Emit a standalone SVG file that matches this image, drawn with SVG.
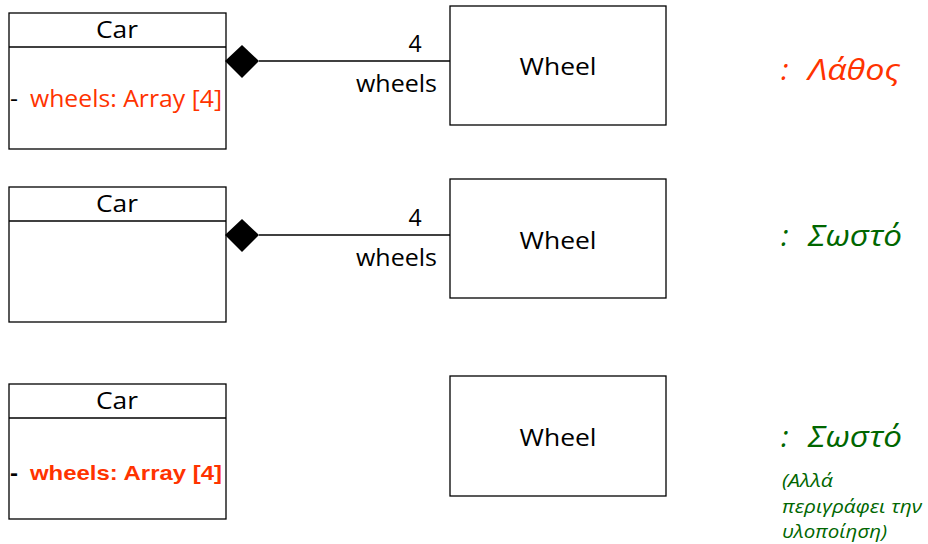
<svg xmlns="http://www.w3.org/2000/svg" width="928" height="544" viewBox="0 0 928 544">
<style>
.box{fill:#fff;stroke:#000;stroke-width:1.3}
.hand{font-family:"Open Sans","DejaVu Sans",sans-serif;fill:#000;font-size:23px}
.red{fill:#FF3300}
.green{fill:#006600}
.verdict{font-family:"Open Sans","DejaVu Sans",sans-serif;font-style:italic;font-size:30px}
.note{font-family:"Open Sans","DejaVu Sans",sans-serif;font-style:italic;font-size:19px}
.line{stroke:#000;stroke-width:1.3;fill:none}
</style>
<rect width="928" height="544" fill="#fff"/>
<g id="car1">
<rect class="box" x="9" y="13" width="217" height="136"/>
<line class="line" x1="9" y1="47" x2="226" y2="47"/>
<text class="hand" x="117" y="38" text-anchor="middle" textLength="42" lengthAdjust="spacingAndGlyphs">Car</text>
<text class="hand" x="10" y="107" font-size="22" textLength="8" lengthAdjust="spacingAndGlyphs">-</text>
<text class="hand red" x="30" y="107" font-size="20" textLength="192" lengthAdjust="spacingAndGlyphs">wheels: Array [4]</text>
</g>
<g id="wheel1">
<rect class="box" x="450" y="6" width="216" height="119"/>
<text class="hand" x="558" y="75" text-anchor="middle" textLength="77" lengthAdjust="spacingAndGlyphs">Wheel</text>
</g>
<g id="car2">
<rect class="box" x="9" y="187" width="217" height="135"/>
<line class="line" x1="9" y1="221" x2="226" y2="221"/>
<text class="hand" x="117" y="212" text-anchor="middle" textLength="42" lengthAdjust="spacingAndGlyphs">Car</text>
</g>
<g id="wheel2">
<rect class="box" x="450" y="179" width="216" height="119"/>
<text class="hand" x="558" y="249" text-anchor="middle" textLength="77" lengthAdjust="spacingAndGlyphs">Wheel</text>
</g>
<g id="car3">
<rect class="box" x="9" y="384" width="217" height="135"/>
<line class="line" x1="9" y1="418" x2="226" y2="418"/>
<text class="hand" x="117" y="409" text-anchor="middle" textLength="42" lengthAdjust="spacingAndGlyphs">Car</text>
<text x="10" y="480" font-size="22" font-family="'Liberation Sans',Arial,sans-serif" font-weight="bold" textLength="8" lengthAdjust="spacingAndGlyphs">-</text>
<text class="red" x="30" y="480" font-size="21" font-family="'Liberation Sans',Arial,sans-serif" font-weight="bold" textLength="192" lengthAdjust="spacingAndGlyphs">wheels: Array [4]</text>
</g>
<g id="wheel3">
<rect class="box" x="450" y="376" width="216" height="120"/>
<text class="hand" x="558" y="446" text-anchor="middle" textLength="77" lengthAdjust="spacingAndGlyphs">Wheel</text>
</g>
<g id="connectors">
<line class="line" x1="259" y1="61" x2="450" y2="61"/>
<polygon points="225,61 242,45 259,61 242,78" fill="#000"/>
<text class="hand" x="415" y="52" text-anchor="middle">4</text>
<text class="hand" x="356" y="92" textLength="81" lengthAdjust="spacingAndGlyphs">wheels</text>
<line class="line" x1="259" y1="235" x2="450" y2="235"/>
<polygon points="225,235 242,219 259,235 242,252" fill="#000"/>
<text class="hand" x="415" y="226" text-anchor="middle">4</text>
<text class="hand" x="356" y="266" textLength="81" lengthAdjust="spacingAndGlyphs">wheels</text>
</g>
<g id="labels">
<text class="verdict red" x="781" y="80">:</text>
<text class="verdict red" x="808" y="80" textLength="92" lengthAdjust="spacingAndGlyphs">Λάθος</text>
<text class="verdict green" x="781" y="246">:</text>
<text class="verdict green" x="808" y="246" textLength="94" lengthAdjust="spacingAndGlyphs">Σωστό</text>
<text class="verdict green" x="781" y="447">:</text>
<text class="verdict green" x="808" y="447" textLength="94" lengthAdjust="spacingAndGlyphs">Σωστό</text>
<text class="note green" x="782" y="487" textLength="51" lengthAdjust="spacingAndGlyphs">(Αλλά</text>
<text class="note green" x="782" y="513" textLength="140" lengthAdjust="spacingAndGlyphs">περιγράφει την</text>
<text class="note green" x="782" y="538" textLength="105" lengthAdjust="spacingAndGlyphs">υλοποίηση)</text>
</g>
</svg>
